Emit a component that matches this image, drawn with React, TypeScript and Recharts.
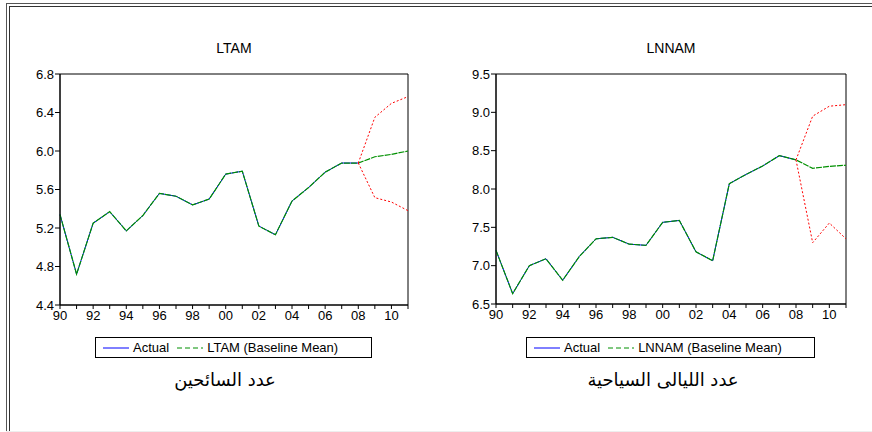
import { LineChart, Line, XAxis, YAxis, ReferenceArea } from 'recharts';

const years = [1990, 1991, 1992, 1993, 1994, 1995, 1996, 1997, 1998, 1999, 2000, 2001, 2002, 2003, 2004, 2005, 2006, 2007, 2008, 2009, 2010, 2011];

// LTAM
const ltamActual = [5.34, 4.72, 5.25, 5.37, 5.17, 5.33, 5.56, 5.53, 5.44, 5.5, 5.76, 5.79, 5.22, 5.13, 5.48, 5.62, 5.78, 5.875, 5.875];
const ltamMean = [5.34, 4.72, 5.25, 5.37, 5.17, 5.33, 5.56, 5.53, 5.44, 5.5, 5.76, 5.79, 5.22, 5.13, 5.48, 5.62, 5.78, 5.875, 5.875, 5.94, 5.965, 6.0];
const ltamUpper = [null, null, null, null, null, null, null, null, null, null, null, null, null, null, null, null, null, null, 5.875, 6.35, 6.495, 6.565];
const ltamLower = [null, null, null, null, null, null, null, null, null, null, null, null, null, null, null, null, null, null, 5.875, 5.515, 5.47, 5.38];
const ltamTicks = [4.4, 4.8, 5.2, 5.6, 6.0, 6.4, 6.8];

// LNNAM
const lnnamActual = [7.2, 6.635, 7.0, 7.09, 6.81, 7.12, 7.35, 7.37, 7.28, 7.265, 7.565, 7.59, 7.18, 7.065, 8.07, 8.19, 8.3, 8.435, 8.38];
const lnnamMean = [7.2, 6.635, 7.0, 7.09, 6.81, 7.12, 7.35, 7.37, 7.28, 7.265, 7.565, 7.59, 7.18, 7.065, 8.07, 8.19, 8.3, 8.435, 8.38, 8.27, 8.295, 8.31];
const lnnamUpper = [null, null, null, null, null, null, null, null, null, null, null, null, null, null, null, null, null, null, 8.38, 8.95, 9.08, 9.1];
const lnnamLower = [null, null, null, null, null, null, null, null, null, null, null, null, null, null, null, null, null, null, 8.38, 7.3, 7.556, 7.35];
const lnnamTicks = [6.5, 7.0, 7.5, 8.0, 8.5, 9.0, 9.5];

const FONT = '"Liberation Sans", Arial, sans-serif';

type Panel = {
  title: string;
  caption: string;
  actual: number[];
  mean: number[];
  upper: (number | null)[];
  lower: (number | null)[];
  yTicks: number[];
  left: number;
  marginRight: number;
  marginBottom: number;
  legend: { left: number; width: number };
  captionCenter: number;
};

const panels: Panel[] = [
  {
    title: 'LTAM',
    caption: 'عدد السائحين',
    actual: ltamActual,
    mean: ltamMean,
    upper: ltamUpper,
    lower: ltamLower,
    yTicks: ltamTicks,
    left: 0,
    marginRight: 32,
    marginBottom: 5,
    legend: { left: 95, width: 277 },
    captionCenter: 225,
  },
  {
    title: 'LNNAM',
    caption: 'عدد الليالى السياحية',
    actual: lnnamActual,
    mean: lnnamMean,
    upper: lnnamUpper,
    lower: lnnamLower,
    yTicks: lnnamTicks,
    left: 436,
    marginRight: 30,
    marginBottom: 6,
    legend: { left: 526, width: 289 },
    captionCenter: 663,
  },
];

function ChartPanel({ p }: { p: Panel }) {
  const data = years.map((t, i) => ({
    t,
    actual: p.actual[i] ?? null,
    mean: p.mean[i],
    upper: p.upper[i],
    lower: p.lower[i],
  }));
  const yMin = p.yTicks[0];
  const yMax = p.yTicks[p.yTicks.length - 1];
  return (
    <div style={{ position: 'absolute', left: p.left, top: 0 }}>
      <LineChart
        width={440}
        height={340}
        data={data}
        margin={{ top: 74, right: p.marginRight, left: 20, bottom: p.marginBottom }}
      >
        <XAxis
          dataKey="t"
          type="number"
          domain={[1990, 2011]}
          ticks={years}
          interval={0}
          height={30}
          tickSize={4}
          stroke="#000"
          tick={{ fill: '#000', fontSize: 13, fontFamily: FONT }}
          tickFormatter={(v: number) => (v % 2 === 0 ? String(v).slice(2) : '')}
        />
        <YAxis
          type="number"
          domain={[yMin, yMax]}
          ticks={p.yTicks}
          width={40}
          tickSize={5}
          tickMargin={1}
          stroke="#000"
          tick={{ fill: '#000', fontSize: 13, fontFamily: FONT }}
          tickFormatter={(v: number) => v.toFixed(1)}
        />
        <ReferenceArea x1={1990} x2={2011} y1={yMin} y2={yMax} fill="none" stroke="#000" strokeWidth={1} />
        <Line dataKey="actual" stroke="#0000ff" strokeWidth={1} dot={false} isAnimationActive={false} />
        <Line dataKey="mean" stroke="#009000" strokeWidth={1.2} strokeDasharray="6 1" dot={false} isAnimationActive={false} />
        <Line dataKey="upper" stroke="#ff0000" strokeWidth={1} strokeDasharray="2 2" dot={false} isAnimationActive={false} />
        <Line dataKey="lower" stroke="#ff0000" strokeWidth={1} strokeDasharray="2 2" dot={false} isAnimationActive={false} />
      </LineChart>
    </div>
  );
}

function Legend({ p }: { p: Panel }) {
  return (
    <div
      style={{
        position: 'absolute',
        left: p.legend.left,
        top: 337,
        width: p.legend.width,
        height: 21,
        border: '1px solid #000',
        boxSizing: 'border-box',
        display: 'flex',
        alignItems: 'center',
        fontFamily: FONT,
        fontSize: 13,
        color: '#000',
        paddingLeft: 7,
        whiteSpace: 'nowrap',
      }}
    >
      <svg width={26} height={4} style={{ marginRight: 4 }}>
        <line x1={0} y1={2} x2={26} y2={2} stroke="#0000ff" strokeWidth={1} />
      </svg>
      <span>Actual</span>
      <svg width={26} height={4} style={{ marginLeft: 8, marginRight: 4 }}>
        <line x1={0} y1={2} x2={26} y2={2} stroke="#009000" strokeWidth={1} strokeDasharray="5 3" />
      </svg>
      <span>{p.title} (Baseline Mean)</span>
    </div>
  );
}

export default function App() {
  return (
    <div style={{ position: 'absolute', left: 0, top: 0, width: 872, height: 432, background: '#fff', overflow: 'hidden' }}>
      {/* double frame */}
      <div style={{ position: 'absolute', left: 6, top: 3, width: 866, height: 1, background: '#555' }} />
      <div style={{ position: 'absolute', left: 9, top: 6, width: 863, height: 1, background: '#333' }} />
      <div style={{ position: 'absolute', left: 6, top: 3, width: 1, height: 429, background: '#555' }} />
      <div style={{ position: 'absolute', left: 9, top: 6, width: 1, height: 426, background: '#333' }} />
      <div style={{ position: 'absolute', left: 6, top: 431, width: 866, height: 1, background: '#eee' }} />

      {panels.map((p) => (
        <div key={p.title}>
          <div
            style={{
              position: 'absolute',
              left: p.left + 60,
              width: 440 - 60 - p.marginRight,
              top: 40,
              textAlign: 'center',
              fontFamily: FONT,
              fontSize: 14,
              color: '#000',
            }}
          >
            {p.title}
          </div>
          <ChartPanel p={p} />
          <Legend p={p} />
          <div
            dir="rtl"
            style={{
              position: 'absolute',
              left: p.captionCenter - 120,
              width: 240,
              top: 369,
              textAlign: 'center',
              fontFamily: '"DejaVu Sans", sans-serif',
              fontSize: 18,
              color: '#000',
            }}
          >
            {p.caption}
          </div>
        </div>
      ))}
    </div>
  );
}
